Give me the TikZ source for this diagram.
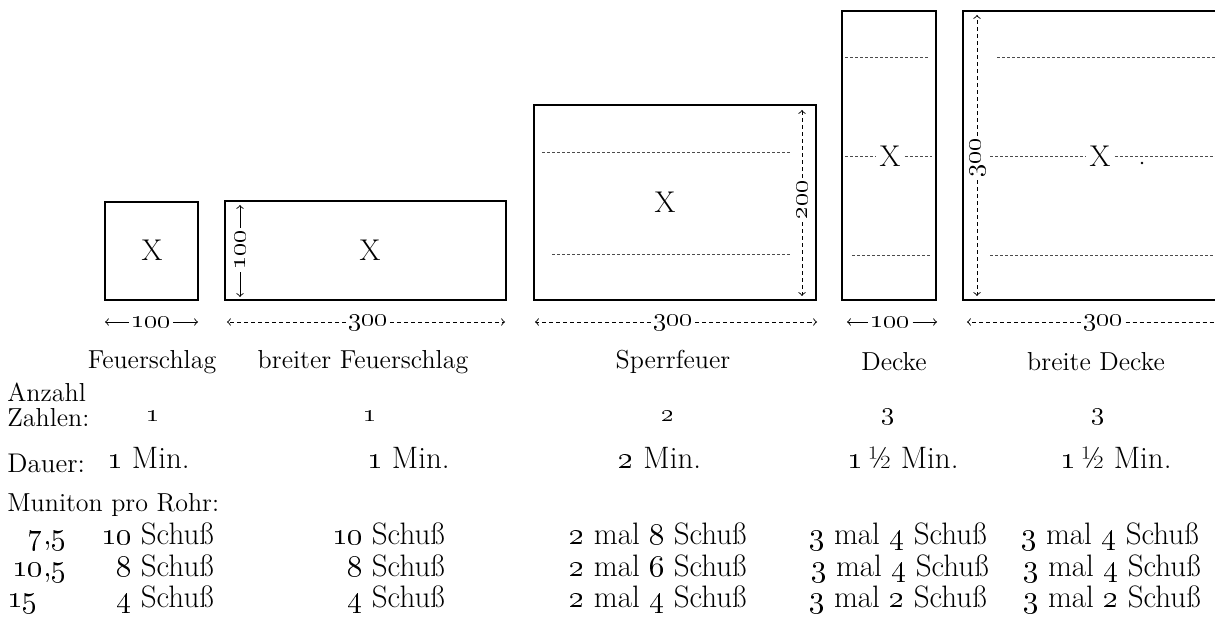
\RequirePackage{fix-cm}
\documentclass[tikz,border=0pt]{standalone}
\usetikzlibrary{positioning}
\newcommand{\os}[1]{\oldstylenums{#1}}
\tikzset{
  feld/.style={line width=0.9pt},
  raster/.style={dash pattern=on 1.5pt off 1pt, line width=0.4pt, black!70},
  masspfeil/.style={->, line width=0.45pt},
  massstrich/.style={->, dash pattern=on 2pt off 1.5pt, line width=0.45pt},
  masszahl/.style={inner sep=1.5pt, font=\fontsize{13}{15}\selectfont},
  kreuz/.style={inner sep=2pt, font=\fontsize{15}{17}\selectfont},
  titel/.style={inner sep=1pt, font=\fontsize{13}{15}\selectfont},
  wert/.style={inner sep=0pt, text height=9pt, text depth=2.5pt, font=\fontsize{15.5}{18}\selectfont},
}
\begin{document}
\begin{tikzpicture}[x=0.5pt,y=-0.5pt]
  \useasboundingbox (0,0) rectangle (1215,619);

  % Feuerschlag
  \draw[feld] (105,202) rectangle (198,300);
  \node[kreuz] (x1) at (152,250) {X};
  \coordinate (d1a) at (105,322);
  \coordinate (d1b) at (198,322);
  \node[masszahl] (m1) at (151,322) {\os{100}};
  \draw[masspfeil] (m1.west) -- (d1a);
  \draw[masspfeil] (m1.east) -- (d1b);

  % breiter Feuerschlag
  \draw[feld] (225,201) rectangle (506,300);
  \node[kreuz] (x2) at (370,250) {X};
  \node[masszahl, rotate=90] (h2) at (240,250) {\os{100}};
  \coordinate (h2a) at (240,205);
  \coordinate (h2b) at (240,297);
  \draw[masspfeil] (h2.east) -- (h2a);
  \draw[masspfeil] (h2.west) -- (h2b);
  \coordinate (d2a) at (227,322);
  \coordinate (d2b) at (505,322);
  \node[masszahl] (m2) at (368,322) {\os{300}};
  \draw[massstrich] (m2.west) -- (d2a);
  \draw[massstrich] (m2.east) -- (d2b);

  % Sperrfeuer
  \draw[feld] (534,105) rectangle (816,300);
  \draw[raster] (542,152) -- (790,152);
  \draw[raster] (552,254) -- (790,254);
  \node[kreuz] (x3) at (665,202) {X};
  \node[masszahl, rotate=90] (h3) at (802,200) {\os{200}};
  \coordinate (h3a) at (802,110);
  \coordinate (h3b) at (802,296);
  \draw[massstrich] (h3.east) -- (h3a);
  \draw[massstrich] (h3.west) -- (h3b);
  \coordinate (d3a) at (535,322);
  \coordinate (d3b) at (817,322);
  \node[masszahl] (m3) at (673,322) {\os{300}};
  \draw[massstrich] (m3.west) -- (d3a);
  \draw[massstrich] (m3.east) -- (d3b);

  % Decke
  \draw[feld] (842,11) rectangle (936,300);
  \draw[raster] (845,57) -- (930,57);
  \draw[raster] (852,255) -- (930,255);
  \node[kreuz] (x4) at (890,156) {X};
  \coordinate (r4a) at (845,156);
  \coordinate (r4b) at (932,156);
  \draw[raster] (r4a) -- (x4.west);
  \draw[raster] (x4.east) -- (r4b);
  \coordinate (d4a) at (847,322);
  \coordinate (d4b) at (937,322);
  \node[masszahl] (m4) at (890,322) {\os{100}};
  \draw[masspfeil] (m4.west) -- (d4a);
  \draw[masspfeil] (m4.east) -- (d4b);

  % breite Decke
  \draw[feld] (1215,11) -- (963,11) -- (963,300) -- (1215,300);
  \draw[raster] (997,57) -- (1215,57);
  \draw[raster] (990,255) -- (1215,255);
  \node[kreuz] (x5) at (1100,156) {X};
  \coordinate (r5a) at (990,156);
  \coordinate (r5b) at (1215,156);
  \draw[raster] (r5a) -- (x5.west);
  \draw[raster] (x5.east) -- (r5b);
  \fill (1142,163) circle (1.3);
  \node[masszahl, rotate=90] (h5) at (977,158) {\os{300}};
  \coordinate (h5a) at (977,15);
  \coordinate (h5b) at (977,296);
  \draw[massstrich] (h5.east) -- (h5a);
  \draw[massstrich] (h5.west) -- (h5b);
  \coordinate (d5a) at (967,322);
  \coordinate (d5b) at (1215,322);
  \node[masszahl] (m5) at (1103,322) {\os{300}};
  \draw[massstrich] (m5.west) -- (d5a);
  \draw[dash pattern=on 2pt off 1.5pt, line width=0.45pt] (m5.east) -- (d5b);

  % Namen
  \node[titel] (n1) at (152,362) {Feuerschlag};
  \node[titel] (n2) at (363,362) {breiter Feuerschlag};
  \node[titel] (n3) at (673,362) {Sperrfeuer};
  \node[titel] (n4) at (894,362) {Decke};
  \node[titel] (n5) at (1096,362) {breite Decke};

  % Anzahl Zahlen
  \node[titel, anchor=west] (az) at (5,392) {Anzahl};
  \node[titel, anchor=west] (za) at (5,418) {Zahlen:};
  \node[titel] (z1) at (153,416) {\os{1}};
  \node[titel] (z2) at (370,416) {\os{1}};
  \node[titel] (z3) at (668,416) {\os{2}};
  \node[titel] (z4) at (888,416) {\os{3}};
  \node[titel] (z5) at (1098,416) {\os{3}};

  % Dauer
  \node[titel, anchor=west, font=\fontsize{13.5}{16}\selectfont] (da) at (5,463) {Dauer:};
  \node[wert, anchor=west] (t1) at (107,462) {\os{1} Min.};
  \node[wert, anchor=west] (t2) at (367,462) {\os{1} Min.};
  \node[wert] (t3) at (660,462) {\os{2} Min.};
  \node[wert, anchor=west] (t4) at (847,462) {\os{1}\,½ Min.};
  \node[wert, anchor=west] (t5) at (1060,462) {\os{1}\,½ Min.};

  % Munition
  \node[titel, anchor=west] (mu) at (5,505) {Muniton pro Rohr:};
  \node[wert, anchor=east] (k1) at (67,538) {\os{7,5}};
  \node[wert, anchor=east] (k2) at (67,570) {\os{10,5}};
  \node[wert, anchor=west] (k3) at (7,601) {\os{15}};

  \node[wert, anchor=east] (s11) at (214,538) {\os{10} Schuß};
  \node[wert, anchor=east] (s12) at (214,570) {\os{8} Schuß};
  \node[wert, anchor=east] (s13) at (214,601) {\os{4} Schuß};
  \node[wert, anchor=east] (s21) at (445,538) {\os{10} Schuß};
  \node[wert, anchor=east] (s22) at (445,570) {\os{8} Schuß};
  \node[wert, anchor=east] (s23) at (445,601) {\os{4} Schuß};
  \node[wert, anchor=west] (s31) at (569,538) {\os{2} mal \os{8} Schuß};
  \node[wert, anchor=west] (s32) at (569,570) {\os{2} mal \os{6} Schuß};
  \node[wert, anchor=west] (s33) at (569,601) {\os{2} mal \os{4} Schuß};
  \node[wert] (s41) at (898,538) {\os{3} mal \os{4} Schuß};
  \node[wert] (s42) at (900,570) {\os{3} mal \os{4} Schuß};
  \node[wert] (s43) at (898,601) {\os{3} mal \os{2} Schuß};
  \node[wert] (s51) at (1110,538) {\os{3} mal \os{4} Schuß};
  \node[wert] (s52) at (1112,570) {\os{3} mal \os{4} Schuß};
  \node[wert] (s53) at (1112,601) {\os{3} mal \os{2} Schuß};
\end{tikzpicture}
\end{document}
